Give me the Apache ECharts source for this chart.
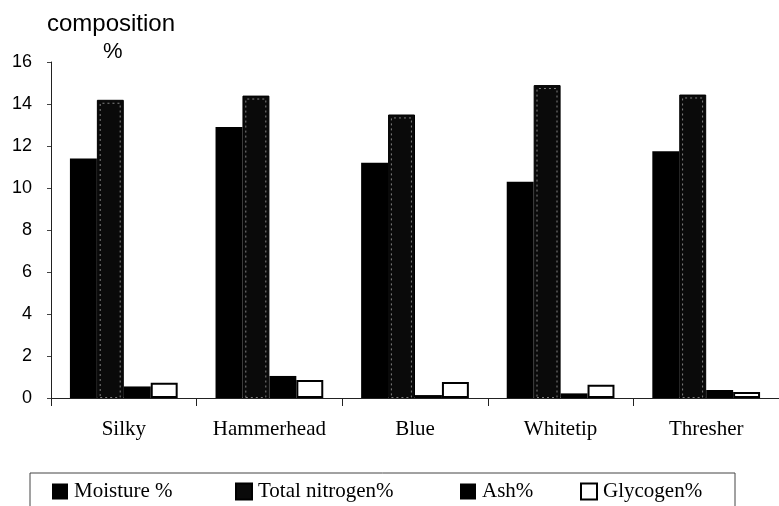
<!DOCTYPE html>
<html>
<head>
<meta charset="utf-8">
<script src="https://cdn.jsdelivr.net/npm/echarts@6/dist/echarts.min.js"></script>
<style>
html,body{margin:0;padding:0;background:#fff;}
#chart{width:779px;height:506px;}
</style>
</head>
<body>
<div id="chart"></div>
<script>
var categories = ['Silky', 'Hammerhead', 'Blue', 'Whitetip', 'Thresher'];
var seriesNames = ['Moisture %', 'Total nitrogen%', 'Ash%', 'Glycogen%'];
var moisture = [11.4, 12.9, 11.2, 10.3, 11.75];
var nitrogen = [14.2, 14.4, 13.5, 14.9, 14.45];
var ash = [0.55, 1.05, 0.14, 0.22, 0.38];
var glycogen = [0.73, 0.86, 0.76, 0.63, 0.28];
var yTicks = {min: 0, max: 16, interval: 2};

var chart = echarts.init(document.getElementById('chart'));
var serif = '"Liberation Serif", "Times New Roman", serif';
var sans = '"Liberation Sans", Arial, sans-serif';

function legendAt(name, left) {
  return {
    data: [name], left: left, top: 481, padding: 0,
    itemWidth: 16, itemHeight: 16, itemGap: 0,
    icon: 'rect',
    textStyle: {fontFamily: serif, fontSize: 21, color: '#000', padding: [0, 0, 0, 1]}
  };
}

// inset outline of the patterned nitrogen bars (same values, drawn on a twin axis)
var nitrogenInset = nitrogen.map(function (v) { return v - 0.14; });

chart.setOption({
  animation: false,
  backgroundColor: '#fff',
  title: [{
    text: 'composition', left: 47, top: 12, padding: 0,
    textStyle: {fontFamily: sans, fontSize: 24, fontWeight: 'normal', color: '#000'}
  }, {
    text: '%', left: 103, top: 41, padding: 0,
    textStyle: {fontFamily: sans, fontSize: 22, fontWeight: 'normal', color: '#000'}
  }],
  legend: [
    legendAt(seriesNames[0], 52),
    legendAt(seriesNames[1], 235),
    legendAt(seriesNames[2], 460),
    legendAt(seriesNames[3], 580)
  ],
  graphic: [{
    type: 'rect', shape: {x: 30, y: 473, width: 705, height: 60},
    style: {fill: 'none', stroke: '#444', lineWidth: 1}, silent: true
  }],
  grid: {left: 51, right: -7, top: 62, bottom: 108},
  xAxis: [{
    type: 'category', data: categories,
    axisLine: {lineStyle: {color: '#222', width: 1}},
    axisTick: {show: true, interval: 0, alignWithLabel: false, length: 8, lineStyle: {color: '#222'}},
    axisLabel: {interval: 0, fontFamily: serif, fontSize: 21, color: '#000', margin: 21}
  }, {
    type: 'category', data: categories, show: false
  }],
  yAxis: [{
    type: 'value', min: yTicks.min, max: yTicks.max, interval: yTicks.interval,
    axisLine: {show: true, lineStyle: {color: '#222', width: 1}},
    axisTick: {show: true, length: 4, lineStyle: {color: '#444'}},
    splitLine: {show: false},
    axisLabel: {fontFamily: sans, fontSize: 18, color: '#000', margin: 19}
  }, {
    type: 'value', min: yTicks.min, max: yTicks.max, show: false, splitLine: {show: false}
  }],
  series: [
    {name: seriesNames[0], type: 'bar', data: moisture, barGap: '0%', barCategoryGap: '26%',
     itemStyle: {color: '#000'}},
    {name: seriesNames[1], type: 'bar', data: nitrogen,
     itemStyle: {color: '#0a0a0a', borderColor: '#000', borderWidth: 1}},
    {name: seriesNames[2], type: 'bar', data: ash,
     itemStyle: {color: '#000'}},
    {name: seriesNames[3], type: 'bar', data: glycogen,
     itemStyle: {color: '#fff', borderColor: '#000', borderWidth: 2}},
    {name: 'a', type: 'bar', xAxisIndex: 1, yAxisIndex: 1, data: [], barWidth: 21, barGap: '29.5%', silent: true},
    {name: 'b', type: 'bar', xAxisIndex: 1, yAxisIndex: 1, data: nitrogenInset, barWidth: 21, silent: true,
     itemStyle: {color: 'rgba(0,0,0,0)', borderColor: 'rgba(210,210,210,0.6)', borderWidth: 1, borderType: [2, 3]}},
    {name: 'c', type: 'bar', xAxisIndex: 1, yAxisIndex: 1, data: [], barWidth: 21, silent: true},
    {name: 'd', type: 'bar', xAxisIndex: 1, yAxisIndex: 1, data: [], barWidth: 21, silent: true}
  ]
});
</script>
</body>
</html>
